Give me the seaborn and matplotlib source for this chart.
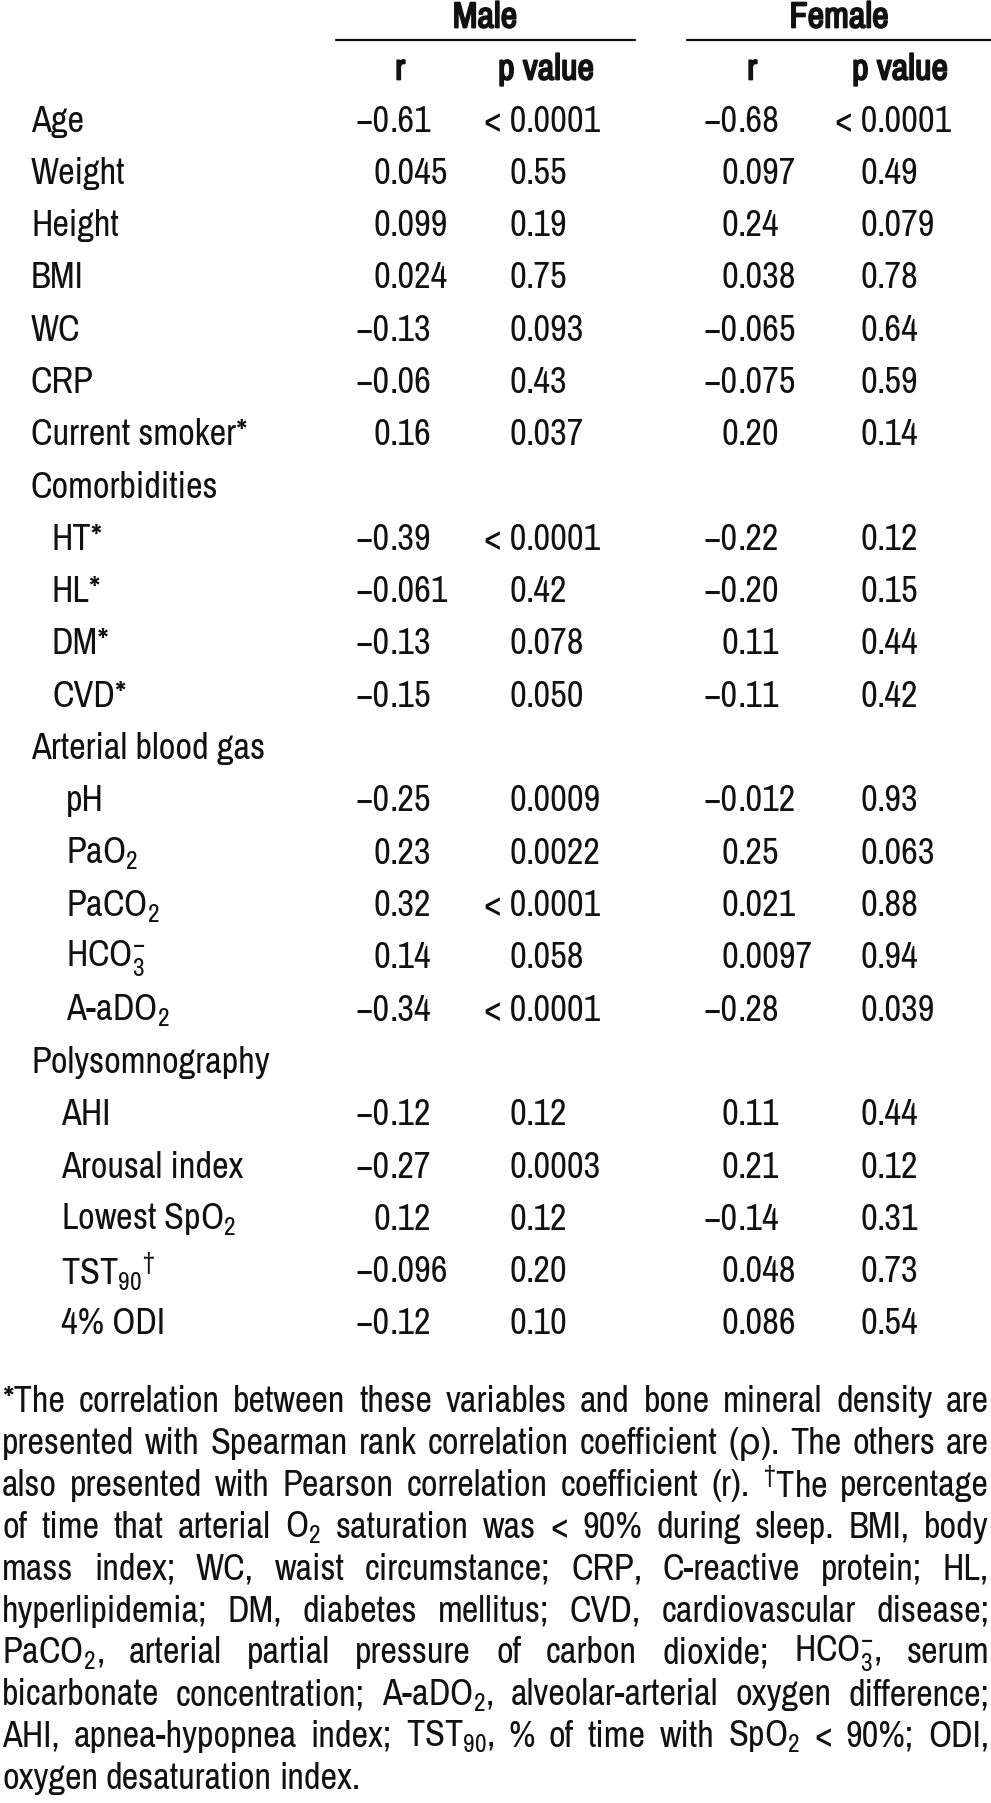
import matplotlib
matplotlib.use("Agg")
import matplotlib.pyplot as plt
import matplotlib.patheffects as pe
import seaborn as sns
from matplotlib import font_manager

# Données du tableau
labels = ["Age", "Weight", "Height", "BMI", "WC", "CRP", "Current smoker*",
          "Comorbidities", "HT*", "HL*", "DM*", "CVD*",
          "Arterial blood gas", "pH", r"PaO$_2$", r"PaCO$_2$", r"HCO$_3^{-}$", r"A-aDO$_2$",
          "Polysomnography", "AHI", "Arousal index", r"Lowest SpO$_2$",
          r"TST$_{90}$$^{\dagger}$", "4% ODI"]
indent = [0, 0, 0, 0, 0, 0, 0,
          0, 1, 1, 1, 1,
          0, 2, 2, 2, 2, 2,
          0, 3, 3, 3, 3, 3]
male_r = ["−0.61", "0.045", "0.099", "0.024", "−0.13", "−0.06", "0.16",
          "", "−0.39", "−0.061", "−0.13", "−0.15",
          "", "−0.25", "0.23", "0.32", "0.14", "−0.34",
          "", "−0.12", "−0.27", "0.12", "−0.096", "−0.12"]
male_p = ["< 0.0001", "0.55", "0.19", "0.75", "0.093", "0.43", "0.037",
          "", "< 0.0001", "0.42", "0.078", "0.050",
          "", "0.0009", "0.0022", "< 0.0001", "0.058", "< 0.0001",
          "", "0.12", "0.0003", "0.12", "0.20", "0.10"]
female_r = ["−0.68", "0.097", "0.24", "0.038", "−0.065", "−0.075", "0.20",
            "", "−0.22", "−0.20", "0.11", "−0.11",
            "", "−0.012", "0.25", "0.021", "0.0097", "−0.28",
            "", "0.11", "0.21", "−0.14", "0.048", "0.086"]
female_p = ["< 0.0001", "0.49", "0.079", "0.78", "0.64", "0.59", "0.14",
            "", "0.12", "0.15", "0.44", "0.42",
            "", "0.93", "0.063", "0.88", "0.94", "0.039",
            "", "0.44", "0.12", "0.31", "0.73", "0.54"]

footnote = [
    "*The correlation between these variables and bone mineral density are",
    "presented with Spearman rank correlation coefficient (ρ). The others are",
    r"also presented with Pearson correlation coefficient (r). $^{\dagger}$The percentage",
    r"of time that arterial O$_2$ saturation was < 90% during sleep. BMI, body",
    "mass index; WC, waist circumstance; CRP, C-reactive protein; HL,",
    "hyperlipidemia; DM, diabetes mellitus; CVD, cardiovascular disease;",
    r"PaCO$_2$, arterial partial pressure of carbon dioxide; HCO$_3^{-}$, serum",
    r"bicarbonate concentration; A-aDO$_2$, alveolar-arterial oxygen difference;",
    r"AHI, apnea-hypopnea index; TST$_{90}$, % of time with SpO$_2$ < 90%; ODI,",
    "oxygen desaturation index.",
]

sns.set_theme(style="white")
names = {f.name for f in font_manager.fontManager.ttflist}
FONT = "Liberation Sans"
for cand in ["Liberation Sans Narrow", "Arial Narrow", "Archivo Narrow",
             "Roboto Condensed", "Fira Sans Condensed", "Liberation Sans"]:
    if cand in names:
        FONT = cand
        break
plt.rcParams["font.family"] = [FONT, "DejaVu Sans"]
plt.rcParams["mathtext.fontset"] = "custom"
plt.rcParams["mathtext.rm"] = FONT
plt.rcParams["mathtext.it"] = FONT
plt.rcParams["mathtext.bf"] = FONT + ":bold"
plt.rcParams["mathtext.default"] = "regular"

W, H = 991, 1803
fig = plt.figure(figsize=(W / 100, H / 100), dpi=100)
ax = fig.add_axes([0, 0, 1, 1])
ax.set_xlim(0, W)
ax.set_ylim(H, 0)
ax.axis("off")
renderer = fig.canvas.get_renderer()

# taille de police calée sur la largeur de "Current smoker*" dans l'original
probe = ax.text(0, 0, "Current smoker*", fontsize=20)
FS = 20 * 216 / probe.get_window_extent(renderer).width
probe.remove()
col = "#111111"
bold = [pe.withStroke(linewidth=1.3, foreground=col)]

# En-têtes (gras simulé par un contour)
ax.text(485, 17, "Male", ha="center", va="center", fontsize=FS, color=col, path_effects=bold)
ax.text(839, 17, "Female", ha="center", va="center", fontsize=FS, color=col, path_effects=bold)
ax.plot([336, 635], [40, 40], color=col, lw=1.6)
ax.plot([687, 991], [40, 40], color=col, lw=1.6)
for x, t in [(400, "r"), (546, "p value"), (752, "r"), (900, "p value")]:
    ax.text(x, 69, t, ha="center", va="center", fontsize=FS, color=col, path_effects=bold)

indent_x = [31, 52, 66, 61]
dec_x = [390, 526, 738, 877]
y0, dy = 121, 52.3

def dec_text(x, y, s):
    if not s:
        return
    i = s.index(".")
    ax.text(x, y, s[:i], ha="right", va="center", fontsize=FS, color=col)
    ax.text(x, y, s[i:], ha="left", va="center", fontsize=FS, color=col)

for k, lab in enumerate(labels):
    y = y0 + k * dy
    ax.text(indent_x[indent[k]], y, lab, ha="left", va="center", fontsize=FS, color=col)
    for x, vals in zip(dec_x, [male_r, male_p, female_r, female_p]):
        dec_text(x, y, vals[k])

# Note de bas de tableau, justifiée
left, right = 2, 989
fy0, fdy = 1402, 41.8
for j, line in enumerate(footnote):
    y = fy0 + j * fdy
    words = line.split(" ")
    objs = [ax.text(0, y, w, ha="left", va="center", fontsize=FS, color=col) for w in words]
    widths = [o.get_window_extent(renderer).width for o in objs]
    space = FS * 0.3
    if j == len(footnote) - 1:
        gap = space
    else:
        gap = (right - left - sum(widths)) / (len(words) - 1)
        if gap < space * 0.6:
            gap = space * 0.6
    x = left
    for o, w in zip(objs, widths):
        o.set_x(x)
        x += w + gap

plt.savefig("out.png", dpi=100)
